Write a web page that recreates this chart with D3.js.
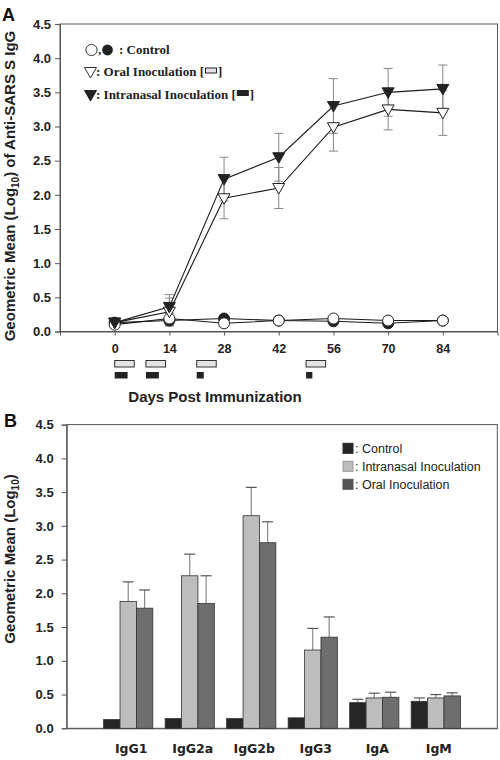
<!DOCTYPE html>
<html><head><meta charset="utf-8">
<script src="https://cdn.jsdelivr.net/npm/d3@7"></script>
<style>body{margin:0;background:#fff;} svg{display:block;}</style>
</head><body>
<svg id="c" width="500" height="760"></svg>
<script>
// ---------- Panel A data ----------
const days = [0, 14, 28, 42, 56, 70, 84];
const dayTicks = [0, 14, 28, 42, 56, 70, 84];
const oral = [0.13, 0.29, 1.95, 2.10, 2.99, 3.25, 3.20];
const oralErr = [0.03, 0.20, 0.30, 0.30, 0.35, 0.30, 0.33];
const intranasal = [0.13, 0.36, 2.23, 2.55, 3.30, 3.50, 3.55];
const intranasalErr = [0.03, 0.18, 0.32, 0.35, 0.40, 0.35, 0.35];
const controlOpen = [0.10, 0.19, 0.12, 0.16, 0.19, 0.16, 0.16];
const controlFilled = [0.13, 0.16, 0.19, 0.16, 0.15, 0.12, 0.16];
const controlErr = [0.02, 0.08, 0.02, 0.02, 0.02, 0.02, 0.02];
const oralDoseStart = [0, 8, 21, 49];
const oralDoseLen = [5, 5, 5, 5];
const nasalDoseStart = [0, 8, 21, 49];
const nasalDoseLen = [3.3, 3.3, 1.8, 1.6];
const yTicks = [0, 0.5, 1, 1.5, 2, 2.5, 3, 3.5, 4, 4.5];

// ---------- Panel B data ----------
const isotypes = ["IgG1", "IgG2a", "IgG2b", "IgG3", "IgA", "IgM"];
const groupsB = ["Control", "Intranasal Inoculation", "Oral Inoculation"];
const controlB = [0.13, 0.145, 0.145, 0.155, 0.38, 0.40];
const controlBErr = [0, 0, 0, 0, 0.05, 0.05];
const intranasalB = [1.88, 2.26, 3.15, 1.16, 0.45, 0.45];
const intranasalBErr = [0.29, 0.32, 0.42, 0.32, 0.07, 0.05];
const oralB = [1.78, 1.85, 2.75, 1.35, 0.46, 0.48];
const oralBErr = [0.27, 0.41, 0.31, 0.30, 0.075, 0.045];

const SANS = "'Liberation Sans', Arial, sans-serif";
const SERIF = "'Liberation Serif', 'Times New Roman', serif";
const VERD = "'DejaVu Sans', Verdana, sans-serif";
const svg = d3.select("#c");

// ================= PANEL A =================
const xA = d3.scaleLinear().domain([-14, 98]).range([60, 497.5]);
const yA = d3.scaleLinear().domain([0, 4.5]).range([331.5, 24]);
const gA = svg.append("g");

gA.append("rect").attr("x", xA.range()[0]).attr("y", yA.range()[1])
  .attr("width", xA.range()[1] - xA.range()[0]).attr("height", yA.range()[0] - yA.range()[1])
  .attr("fill", "none").attr("stroke", "#555").attr("stroke-width", 1);

const axYA = gA.append("g").attr("transform", `translate(${xA.range()[0]},0)`)
  .call(d3.axisLeft(yA).tickValues(yTicks).tickFormat(d3.format(".1f")).tickSize(5).tickPadding(4));
const axXA = gA.append("g").attr("transform", `translate(0,${yA.range()[0]})`)
  .call(d3.axisBottom(xA).tickValues(dayTicks).tickFormat(d3.format("d")).tickSize(4).tickPadding(9));
[axYA, axXA].forEach(a => {
  a.select(".domain").attr("stroke", "#555");
  a.selectAll(".tick line").attr("stroke", "#555");
});
axYA.selectAll("text").attr("font-family", SANS).attr("font-weight", "bold").attr("font-size", 13).attr("fill", "#222");
axXA.selectAll("text").attr("font-family", SANS).attr("font-weight", "bold").attr("font-size", 12.5).attr("fill", "#222");

function errA(vals, errs) {
  const g = gA.append("g").attr("stroke", "#888").attr("stroke-width", 1);
  days.forEach((d, i) => {
    const x = xA(d), y1 = yA(vals[i] + errs[i]), y0 = yA(vals[i] - errs[i]);
    g.append("line").attr("x1", x).attr("x2", x).attr("y1", y1).attr("y2", y0);
    g.append("line").attr("x1", x - 4.5).attr("x2", x + 4.5).attr("y1", y1).attr("y2", y1);
    g.append("line").attr("x1", x - 4.5).attr("x2", x + 4.5).attr("y1", y0).attr("y2", y0);
  });
}
errA(controlFilled, controlErr);
errA(controlOpen, controlErr);
errA(oral, oralErr);
errA(intranasal, intranasalErr);

const lineA = vals => d3.line().x((d, i) => xA(days[i])).y(d => yA(d))(vals);
[controlFilled, controlOpen, oral, intranasal].forEach(v => {
  gA.append("path").attr("d", lineA(v)).attr("fill", "none").attr("stroke", "#1a1a1a").attr("stroke-width", 1.1);
});

function circles(vals, fill) {
  gA.append("g").selectAll("circle").data(vals).join("circle")
    .attr("cx", (d, i) => xA(days[i])).attr("cy", d => yA(d)).attr("r", 5.5)
    .attr("fill", fill).attr("stroke", "#222").attr("stroke-width", 1);
}
const triPath = (x, y) => `M${x - 6},${y - 4.5}L${x + 6},${y - 4.5}L${x},${y + 6}Z`;
function triangles(vals, fill) {
  gA.append("g").selectAll("path").data(vals).join("path")
    .attr("d", (d, i) => triPath(xA(days[i]), yA(d)))
    .attr("fill", fill).attr("stroke", "#222").attr("stroke-width", 1);
}
circles(controlFilled, "#222");
circles(controlOpen, "#fff");
triangles(oral, "#fff");
triangles(intranasal, "#222");

const bandH = 6.5;
gA.append("g").selectAll("rect").data(oralDoseStart).join("rect")
  .attr("x", (d) => xA(d)).attr("y", 360.5)
  .attr("width", (d, i) => xA(d + oralDoseLen[i]) - xA(d)).attr("height", bandH)
  .attr("fill", "#e4e4e4").attr("stroke", "#333").attr("stroke-width", 1);
gA.append("g").selectAll("rect").data(nasalDoseStart).join("rect")
  .attr("x", (d) => xA(d)).attr("y", 372)
  .attr("width", (d, i) => xA(d + nasalDoseLen[i]) - xA(d)).attr("height", bandH)
  .attr("fill", "#222");

gA.append("text").attr("x", 215).attr("y", 401.5).attr("text-anchor", "middle")
  .attr("font-family", SANS).attr("font-weight", "bold").attr("font-size", 15).attr("fill", "#222")
  .text("Days Post Immunization");
const ytA = gA.append("text").attr("transform", "translate(15,186) rotate(-90)").attr("text-anchor", "middle")
  .attr("font-family", SANS).attr("font-weight", "bold").attr("font-size", 15).attr("fill", "#222");
ytA.append("tspan").text("Geometric Mean (Log");
ytA.append("tspan").attr("font-size", 10).attr("dy", 4).text("10");
ytA.append("tspan").attr("dy", -4).text(") of Anti-SARS S IgG");
svg.append("text").attr("x", 2).attr("y", 20.5).attr("font-family", SANS).attr("font-weight", "bold")
  .attr("font-size", 18).attr("fill", "#111").text("A");

const lg = gA.append("g").attr("font-family", SERIF).attr("font-weight", "bold").attr("font-size", 13).attr("fill", "#222");
lg.append("circle").attr("cx", 91.5).attr("cy", 50).attr("r", 5.6).attr("fill", "#fff").attr("stroke", "#333");
lg.append("text").attr("x", 98).attr("y", 54).text(",");
lg.append("circle").attr("cx", 107.5).attr("cy", 50).attr("r", 5.4).attr("fill", "#222");
lg.append("text").attr("x", 119).attr("y", 54).text(": Control");
lg.append("path").attr("d", triPath(90.5, 72)).attr("fill", "#fff").attr("stroke", "#333");
lg.append("path").attr("d", triPath(90.5, 95)).attr("fill", "#222").attr("stroke", "#222");
function bracketItem(y, label, fill) {
  const t = lg.append("text").attr("x", 96).attr("y", y).text(label + " [");
  const w = t.node().getComputedTextLength();
  lg.append("rect").attr("x", 96 + w + 1.5).attr("y", y - 8).attr("width", 11).attr("height", 5)
    .attr("fill", fill).attr("stroke", "#222").attr("stroke-width", 1);
  lg.append("text").attr("x", 96 + w + 14).attr("y", y).text("]");
}
bracketItem(76, ": Oral Inoculation", "#e4e4e4");
bracketItem(98.5, ": Intranasal Inoculation", "#222");

// ================= PANEL B =================
const xB = d3.scaleBand().domain(isotypes).range([66.7, 497.3]).paddingInner(0.2).paddingOuter(0.6);
const xSub = d3.scaleBand().domain(groupsB).range([0, xB.bandwidth()]);
const yB = d3.scaleLinear().domain([0, 4.5]).range([728.3, 424.6]);
const gB = svg.append("g");
gB.append("rect").attr("x", 66.7).attr("y", yB.range()[1]).attr("width", 497.3 - 66.7)
  .attr("height", yB.range()[0] - yB.range()[1]).attr("fill", "none").attr("stroke", "#555");
const axYB = gB.append("g").attr("transform", "translate(66.7,0)")
  .call(d3.axisLeft(yB).tickValues(yTicks).tickFormat(d3.format(".1f")).tickSize(5).tickPadding(8));
axYB.select(".domain").attr("stroke", "#555");
axYB.selectAll(".tick line").attr("stroke", "#555");
axYB.selectAll("text").attr("font-family", SANS).attr("font-weight", "bold").attr("font-size", 13).attr("fill", "#222");
const axXB = gB.append("g").attr("transform", `translate(0,${yB.range()[0]})`)
  .call(d3.axisBottom(xB).tickSize(0).tickPadding(16));
axXB.select(".domain").attr("stroke", "#555");
axXB.selectAll("text").attr("font-family", VERD).attr("font-weight", "bold").attr("font-size", 12.5)
  .attr("fill", "#222").attr("dx", 3);

const seriesB = [
  { name: groupsB[0], vals: controlB, errs: controlBErr, fill: "#262626" },
  { name: groupsB[1], vals: intranasalB, errs: intranasalBErr, fill: "#bdbdbd" },
  { name: groupsB[2], vals: oralB, errs: oralBErr, fill: "#6e6e6e" }
];
seriesB.forEach(s => {
  const g = gB.append("g");
  isotypes.forEach((iso, i) => {
    const x = xB(iso) + xSub(s.name), w = xSub.bandwidth();
    if (s.errs[i] > 0) {
      const cx = x + w / 2, yt = yB(s.vals[i] + s.errs[i]);
      g.append("line").attr("x1", cx).attr("x2", cx).attr("y1", yt).attr("y2", yB(s.vals[i]))
        .attr("stroke", "#888").attr("stroke-width", 1.2);
      g.append("line").attr("x1", cx - 5.5).attr("x2", cx + 5.5).attr("y1", yt).attr("y2", yt)
        .attr("stroke", "#555").attr("stroke-width", 1.2);
    }
    g.append("rect").attr("x", x).attr("y", yB(s.vals[i])).attr("width", w)
      .attr("height", yB(0) - yB(s.vals[i])).attr("fill", s.fill).attr("stroke", "#333").attr("stroke-width", 0.8);
  });
});

const legB = gB.append("g").attr("font-family", SANS).attr("font-size", 12.5).attr("fill", "#222");
const legFill = ["#262626", "#bdbdbd", "#555"];
groupsB.forEach((name, i) => {
  const cy = 448.3 + i * 18;
  legB.append("rect").attr("x", 343).attr("y", cy - 5).attr("width", 10).attr("height", 10)
    .attr("fill", legFill[i]).attr("stroke", i === 1 ? "#999" : legFill[i]);
  legB.append("text").attr("x", 355).attr("y", cy + 4.5).text(": " + name);
});

const ytB = gB.append("text").attr("transform", "translate(15,559) rotate(-90)").attr("text-anchor", "middle")
  .attr("font-family", SANS).attr("font-weight", "bold").attr("font-size", 15).attr("fill", "#222");
ytB.append("tspan").text("Geometric Mean (Log");
ytB.append("tspan").attr("font-size", 10).attr("dy", 4).text("10");
ytB.append("tspan").attr("dy", -4).text(")");
svg.append("text").attr("x", 4).attr("y", 427).attr("font-family", SANS).attr("font-weight", "bold")
  .attr("font-size", 18).attr("fill", "#111").text("B");
</script>
</body></html>
